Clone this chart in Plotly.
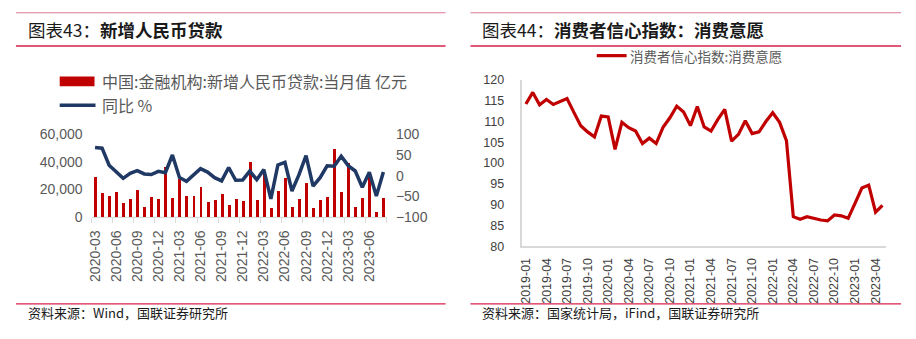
import plotly.graph_objects as go

# ---------------- data: left chart (new RMB loans) ----------------
loan_months = [
    "2020-03", "2020-04", "2020-05", "2020-06", "2020-07", "2020-08", "2020-09", "2020-10", "2020-11", "2020-12",
    "2021-01", "2021-02", "2021-03", "2021-04", "2021-05", "2021-06", "2021-07", "2021-08", "2021-09", "2021-10",
    "2021-11", "2021-12", "2022-01", "2022-02", "2022-03", "2022-04", "2022-05", "2022-06", "2022-07", "2022-08",
    "2022-09", "2022-10", "2022-11", "2022-12", "2023-01", "2023-02", "2023-03", "2023-04", "2023-05", "2023-06",
    "2023-07", "2023-08",
]
new_loans = [
    28500, 17000, 14800, 18100, 9927, 12800, 19000, 6898, 14300, 12600,
    35800, 13600, 27300, 14700, 15000, 21200, 10800, 12200, 16600, 8262,
    12700, 11300, 39800, 12300, 31300, 6454, 18900, 28100, 6790, 12500,
    24700, 6152, 12100, 14000, 49000, 18100, 38900, 7188, 13600, 30500,
    3459, 13600,
]
loans_yoy = [
    68.6, 66.7, 25.4, 9.0, -6.4, 5.8, 12.4, 4.3, 2.9, 10.5,
    7.2, 50.2, -4.2, -13.5, 1.4, 17.1, 8.8, -4.7, -12.6, 19.8,
    -11.2, -10.3, 11.2, -9.6, 14.7, -56.1, 26.0, 32.5, -37.1, 2.5,
    48.8, -25.5, -4.7, 23.9, 23.1, 47.2, 24.3, 11.4, -28.0, 8.5,
    -49.1, 8.8,
]
left_bar_name = "中国:金融机构:新增人民币贷款:当月值 亿元"
left_line_name = "同比 %"

# ---------------- data: right chart (consumer willingness) ----------------
cci_months = [f"{y}-{m:02d}" for y in range(2019, 2024) for m in range(1, 13)][:53]
cci_willing = [
    114.2, 117.0, 114.0, 115.3, 114.1, 114.8, 115.5, 112.2, 109.0, 107.5,
    106.3, 111.3, 111.1, 103.3, 109.8, 108.5, 107.7, 104.7, 106.0, 104.7,
    108.6, 110.9, 113.7, 112.3, 109.0, 113.6, 108.7, 107.7, 110.5, 112.9,
    105.3, 106.9, 110.2, 107.1, 107.5, 110.0, 112.1, 109.8, 105.4, 87.1,
    86.5, 87.1, 86.7, 86.3, 86.1, 87.5, 87.3, 86.7, 90.3, 94.0,
    94.7, 88.2, 89.8,
]
right_line_name = "消费者信心指数:消费意愿"

left_tick_labels = loan_months[::3][:14]
right_tick_labels = cci_months[::3]

W, H = 916, 339
def px(x):
    return x / W
def py(y):
    return 1 - y / H

BAR_RED = "#c00000"
NAVY = "#203864"
GRAY_TXT = "#595959"
AXIS_GRAY = "#d9d9d9"
CJK = "Noto Sans CJK SC"
LAT = "Liberation Sans, Arial"

fig = go.Figure()

xi_left = list(range(len(loan_months)))
fig.add_trace(go.Bar(
    x=xi_left, y=new_loans, name=left_bar_name,
    marker=dict(color=BAR_RED, line=dict(width=0)),
    width=0.42, xaxis="x", yaxis="y", showlegend=False,
    hovertext=loan_months,
))
fig.add_trace(go.Scatter(
    x=xi_left, y=loans_yoy, name=left_line_name, mode="lines",
    line=dict(color=NAVY, width=3.5), xaxis="x", yaxis="y2", showlegend=False,
    hovertext=loan_months,
))

xi_right = list(range(len(cci_months)))
fig.add_trace(go.Scatter(
    x=xi_right, y=cci_willing, name=right_line_name, mode="lines",
    line=dict(color=BAR_RED, width=3.2), xaxis="x3", yaxis="y3", showlegend=False,
    hovertext=cci_months,
))

fig.update_layout(
    width=W, height=H,
    margin=dict(l=0, r=0, t=0, b=0),
    paper_bgcolor="white", plot_bgcolor="white",
    showlegend=False,
    bargap=0,
    xaxis=dict(
        domain=[px(87), px(384)], anchor="y",
        range=[-0.5, len(loan_months) - 0.5],
        tickmode="array", tickvals=list(range(0, len(loan_months), 3))[:14], ticktext=left_tick_labels,
        tickangle=-90, ticks="", ticklen=0, ticklabelstandoff=7,
        tickfont=dict(family=LAT, size=14, color=GRAY_TXT),
        showline=True, linecolor=AXIS_GRAY, linewidth=1,
        showgrid=False, zeroline=False,
        minor=dict(tickmode="linear", tick0=-0.5, dtick=3, ticks="outside", ticklen=5,
                   tickcolor=AXIS_GRAY, tickwidth=1, showgrid=False),
    ),
    yaxis=dict(
        domain=[py(219.3), py(132.7)], anchor="x",
        range=[0, 60000], tickvals=[0, 20000, 40000, 60000],
        ticktext=["0", "20,000", "40,000", "60,000"],
        tickfont=dict(family=LAT, size=14, color=GRAY_TXT),
        showgrid=False, zeroline=False, showline=False, ticks="", ticklabelstandoff=8,
    ),
    yaxis2=dict(
        overlaying="y", side="right", anchor="x",
        range=[-100, 100], tickvals=[-100, -50, 0, 50, 100],
        tickfont=dict(family=LAT, size=14, color=GRAY_TXT),
        showgrid=False, zeroline=False, showline=False, ticks="", ticklabelstandoff=8,
    ),
    xaxis3=dict(
        domain=[px(520.3), px(885.7)], anchor="y3",
        range=[-0.5, len(cci_months) - 0.5],
        tickmode="array", tickvals=list(range(0, len(cci_months), 3)), ticktext=right_tick_labels,
        tickangle=-90, ticks="",
        tickfont=dict(family=LAT, size=12.5, color="#404040"),
        showline=True, linecolor=AXIS_GRAY, linewidth=1.5,
        showgrid=False, zeroline=False, ticklabelstandoff=5,
    ),
    yaxis3=dict(
        domain=[py(250), py(75.5)], anchor="x3",
        range=[80, 120], dtick=5,
        tickfont=dict(family=LAT, size=12.5, color="#404040"),
        showline=True, linecolor=AXIS_GRAY, linewidth=1.5,
        showgrid=False, zeroline=False, ticks="", ticklabelstandoff=14,
    ),
)

shapes = []
annotations = []

def hline(x0, x1, y, color, width):
    shapes.append(dict(type="line", xref="paper", yref="paper",
                       x0=px(x0), x1=px(x1), y0=py(y), y1=py(y),
                       line=dict(color=color, width=width)))

for (a, b) in [(11, 443), (468, 901)]:
    hline(a, b, 5, "#e07a93", 1)
    hline(a, b, 40, "#d8204a", 1.5)
    hline(a, b, 310.5, "#d8204a", 1.2)

# titles
annotations.append(dict(xref="paper", yref="paper", x=px(21), y=py(22.5), xanchor="left", yanchor="middle",
                        text="图表43：<b>新增人民币贷款</b>", showarrow=False,
                        font=dict(family=CJK, size=17.5, color="#1a1a1a")))
annotations.append(dict(xref="paper", yref="paper", x=px(478), y=py(22.5), xanchor="left", yanchor="middle",
                        text="图表44：<b>消费者信心指数：消费意愿</b>", showarrow=False,
                        font=dict(family=CJK, size=17.5, color="#1a1a1a")))
# footers
annotations.append(dict(xref="paper", yref="paper", x=px(21), y=py(319.5), xanchor="left", yanchor="middle",
                        text="资料来源：Wind，国联证券研究所", showarrow=False,
                        font=dict(family=CJK, size=13, color="#1a1a1a")))
annotations.append(dict(xref="paper", yref="paper", x=px(478), y=py(320), xanchor="left", yanchor="middle",
                        text="资料来源：国家统计局，iFind，国联证券研究所", showarrow=False,
                        font=dict(family=CJK, size=13, color="#1a1a1a")))

# left legend
shapes.append(dict(type="rect", xref="paper", yref="paper",
                   x0=px(55), x1=px(90), y0=py(82), y1=py(72),
                   fillcolor=BAR_RED, line=dict(width=0)))
shapes.append(dict(type="line", xref="paper", yref="paper",
                   x0=px(55), x1=px(91), y0=py(102), y1=py(102),
                   line=dict(color=NAVY, width=3.5)))
annotations.append(dict(xref="paper", yref="paper", x=px(96), y=py(77), xanchor="left", yanchor="middle",
                        text=left_bar_name, showarrow=False,
                        font=dict(family=CJK, size=16, color=GRAY_TXT)))
annotations.append(dict(xref="paper", yref="paper", x=px(96), y=py(102), xanchor="left", yanchor="middle",
                        text=left_line_name, showarrow=False,
                        font=dict(family=CJK, size=16, color=GRAY_TXT)))

# right legend
shapes.append(dict(type="line", xref="paper", yref="paper",
                   x0=px(595), x1=px(625), y0=py(50), y1=py(50),
                   line=dict(color=BAR_RED, width=3.2)))
annotations.append(dict(xref="paper", yref="paper", x=px(626), y=py(50), xanchor="left", yanchor="middle",
                        text=right_line_name, showarrow=False,
                        font=dict(family=CJK, size=13.5, color=GRAY_TXT)))

fig.update_layout(shapes=shapes, annotations=annotations)

fig.write_html("out.html")
